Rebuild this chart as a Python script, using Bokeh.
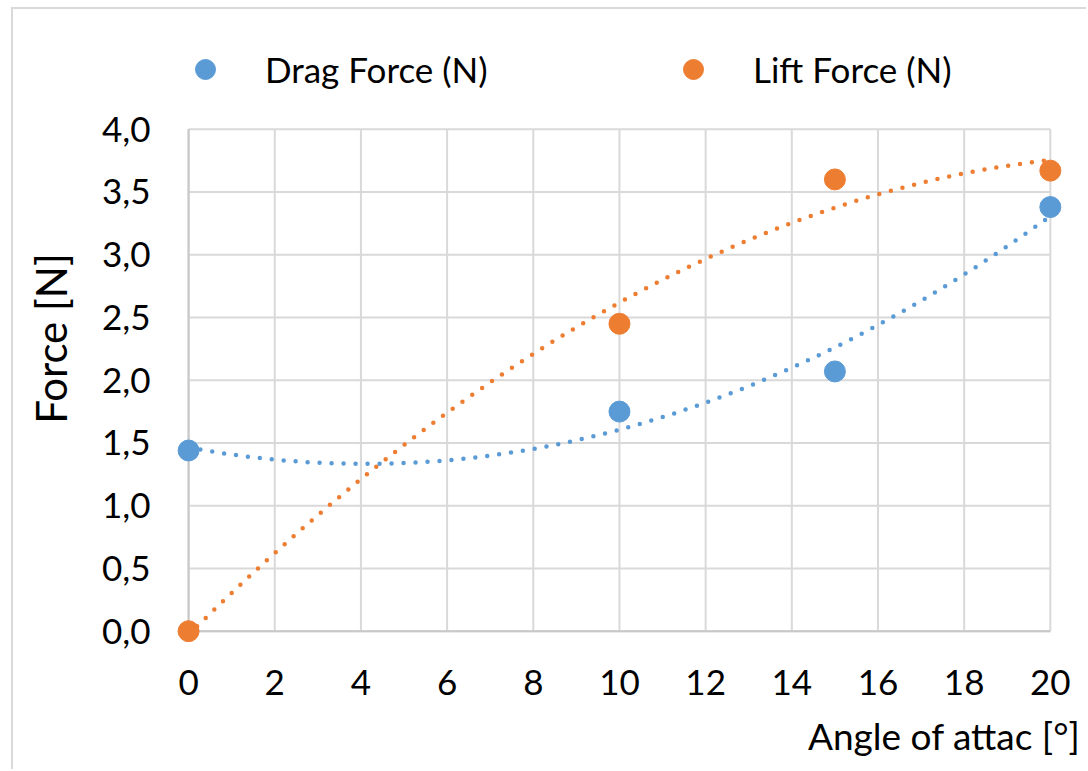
import numpy as np
from bokeh.plotting import figure
from bokeh.models import Range1d, FixedTicker, CustomJSTickFormatter, Legend, LegendItem, Title
from bokeh.embed import file_html
from bokeh.resources import INLINE

# ---- data ----
angles = [0, 10, 15, 20]
drag_force = [1.44, 1.75, 2.07, 3.38]
lift_force = [0.0, 2.45, 3.60, 3.67]
x_ticks = [0, 2, 4, 6, 8, 10, 12, 14, 16, 18, 20]
y_ticks = [0.0, 0.5, 1.0, 1.5, 2.0, 2.5, 3.0, 3.5, 4.0]

BLUE = "#5B9BD5"
ORANGE = "#ED7D31"
GRID = "#d9d9d9"
FONT = "Lato"
FS = "35px"

# frame extends above the plot area so the legend sits inside it
p = figure(width=1075, height=762, output_backend="svg", toolbar_location=None,
           x_range=Range1d(-0.35, 20.70), y_range=Range1d(-0.09, 4.755),
           min_border_left=160, min_border_right=8, min_border_top=25, min_border_bottom=128)
p.styles = {"margin-left": "11px", "margin-top": "7px",
            "border-left": "2px solid #d9d9d9", "border-top": "2px solid #d9d9d9"}
p.outline_line_color = None
p.xgrid.visible = False
p.ygrid.visible = False

# grid lines (from tick arrays)
p.segment(x0=x_ticks, y0=[y_ticks[0]] * len(x_ticks), x1=x_ticks, y1=[y_ticks[-1]] * len(x_ticks),
          line_color=GRID, line_width=2)
p.segment(x0=[x_ticks[0]] * len(y_ticks), y0=y_ticks, x1=[x_ticks[-1]] * len(y_ticks), y1=y_ticks,
          line_color=GRID, line_width=2)
# axis lines
p.segment(x0=[x_ticks[0], x_ticks[0]], y0=[y_ticks[0], y_ticks[0]],
          x1=[x_ticks[-1], x_ticks[0]], y1=[y_ticks[0], y_ticks[-1]],
          line_color="#c8c8c8", line_width=2)

# polynomial (order 2) trendlines
xs = np.linspace(angles[0], angles[-1], 300)
drag_fit = np.polyval(np.polyfit(angles, drag_force, 2), xs)
lift_fit = np.polyval(np.polyfit(angles, lift_force, 2), xs)
p.line(xs, drag_fit, line_color=BLUE, line_width=4.5, line_dash="0 12", line_cap="round")
p.line(xs, lift_fit, line_color=ORANGE, line_width=4.5, line_dash="0 12", line_cap="round")

r_drag = p.scatter(angles, drag_force, size=21, fill_color=BLUE, line_color=BLUE)
r_lift = p.scatter(angles, lift_force, size=21, fill_color=ORANGE, line_color=ORANGE)

# axes
for ax in (p.xaxis[0], p.yaxis[0]):
    ax.axis_line_color = None
    ax.major_tick_line_color = None
    ax.minor_tick_line_color = None
    ax.major_label_text_font = FONT
    ax.major_label_text_font_size = FS
    ax.major_label_text_color = "#000000"
    ax.axis_label_text_font = FONT
    ax.axis_label_text_font_style = "normal"
    ax.axis_label_text_color = "#000000"
p.xaxis.ticker = FixedTicker(ticks=x_ticks)
p.yaxis.ticker = FixedTicker(ticks=y_ticks)
p.yaxis.formatter = CustomJSTickFormatter(code="return tick.toFixed(1).replace('.', ',');")
p.xaxis.major_label_standoff = 21
p.yaxis.major_label_standoff = 17
p.yaxis.axis_label = "Force [N]"
p.yaxis.axis_label_text_font_size = "42px"
p.yaxis.axis_label_standoff = 23

# x-axis title, right aligned
p.add_layout(Title(text="Angle of attac [°]", align="right", vertical_align="bottom",
                   text_font=FONT, text_font_size="37px", text_font_style="normal",
                   text_color="#000000", standoff=27), "below")

# legend (inside the extended frame, above the plot area)
legend = Legend(items=[LegendItem(label="Drag Force (N)", renderers=[r_drag]),
                       LegendItem(label="Lift Force (N)", renderers=[r_lift])],
                location=(7, 548), orientation="horizontal", padding=0, margin=0, spacing=0,
                border_line_color=None, background_fill_alpha=0,
                glyph_width=50, glyph_height=50, label_standoff=35, label_width=403,
                label_text_font=FONT, label_text_font_size=FS, label_text_color="#000000")
p.add_layout(legend, "center")

open("out.html", "w").write(file_html(p, INLINE))
